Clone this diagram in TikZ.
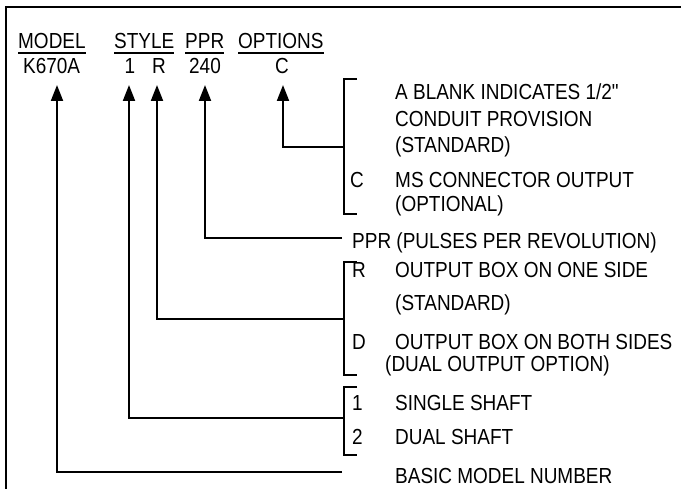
\documentclass[tikz,border=0pt]{standalone}
\usepackage{fontspec}
\setmainfont{Liberation Sans}[FakeStretch=0.87, Ligatures=TeXOff]
\usetikzlibrary{arrows.meta}
\begin{document}
\begin{tikzpicture}[x=1pt,y=-1pt,
  lbl/.style={inner sep=0pt, anchor=base west, font=\fontsize{21.8}{26}\selectfont},
  lblc/.style={lbl, anchor=base},
  conn/.style={line width=2pt},
  arr/.style={conn, -{Triangle[length=16pt,width=12pt]}},
  brk/.style={line width=2pt},
  ul/.style={line width=1.5pt},
  frame/.style={line width=2.5pt}]
\useasboundingbox (0,0) rectangle (681,489);
% frame
\draw[frame] (6,489) -- (6,7) -- (681,7);
% header
\node[lbl] (hmodel) at (18,48.5) {MODEL};
\node[lbl] (hstyle) at (114,48.5) {STYLE};
\node[lbl] (hppr) at (185,48.5) {PPR};
\node[lbl] (hopt) at (238,48.5) {OPTIONS};
\foreach \n in {hmodel,hstyle,hppr,hopt}
  \draw[ul] ([yshift=-4.5pt]\n.base west) -- ([yshift=-4.5pt]\n.base east);
% values
\node[lbl] (vmodel) at (23,73.5) {K670A};
\node[lblc] (vstyle) at (130,73.5) {1};
\node[lblc] (vout) at (159,73.5) {R};
\node[lblc] (vppr) at (205,73.5) {240};
\node[lblc] (vopt) at (282,73.5) {C};
% arrow tips
\coordinate (tmodel) at (57,85);
\coordinate (tstyle) at (129,85);
\coordinate (tout) at (157,85);
\coordinate (tppr) at (205,85);
\coordinate (topt) at (283,85);
% options bracket
\draw[brk] (357,79) -- (344,79) -- (344,214) -- (357,214);
\coordinate (bopt) at (344,147);
\node[lbl] (o1) at (395,100) {A BLANK INDICATES 1/2"};
\node[lbl] (o2) at (395,127) {CONDUIT PROVISION};
\node[lbl] (o3) at (395,153) {(STANDARD)};
\node[lbl] (oc) at (350,187.5) {C};
\node[lbl] (o4) at (395,187.5) {MS CONNECTOR OUTPUT};
\node[lbl] (o5) at (395,212) {(OPTIONAL)};
\draw[arr] (bopt) -| (topt);
% ppr
\node[lbl] (pprtxt) at (352,249) {PPR (PULSES PER REVOLUTION)};
\coordinate (bppr) at (342,238);
\draw[arr] (bppr) -| (tppr);
% output box bracket
\draw[brk] (357,262) -- (344,262) -- (344,375) -- (357,375);
\coordinate (bout) at (344,319);
\node[lbl] (rr) at (352,278) {R};
\node[lbl] (r1) at (395,278) {OUTPUT BOX ON ONE SIDE};
\node[lbl] (r2) at (395,311) {(STANDARD)};
\node[lbl] (dd) at (352,350) {D};
\node[lbl] (d1) at (395,350) {OUTPUT BOX ON BOTH SIDES};
\node[lbl] (d2) at (385,372) {(DUAL OUTPUT OPTION)};
\draw[arr] (bout) -| (tout);
% shaft bracket
\draw[brk] (357,387) -- (344,387) -- (344,455) -- (357,455);
\coordinate (bstyle) at (344,418);
\node[lbl] (s1) at (352,410) {1};
\node[lbl] (s1t) at (395,410) {SINGLE SHAFT};
\node[lbl] (s2) at (352,445) {2};
\node[lbl] (s2t) at (395,445) {DUAL SHAFT};
\draw[arr] (bstyle) -| (tstyle);
% basic model
\node[lbl] (bm) at (395,483) {BASIC MODEL NUMBER};
\coordinate (bmodel) at (342,472);
\draw[arr] (bmodel) -| (tmodel);
\end{tikzpicture}
\end{document}
